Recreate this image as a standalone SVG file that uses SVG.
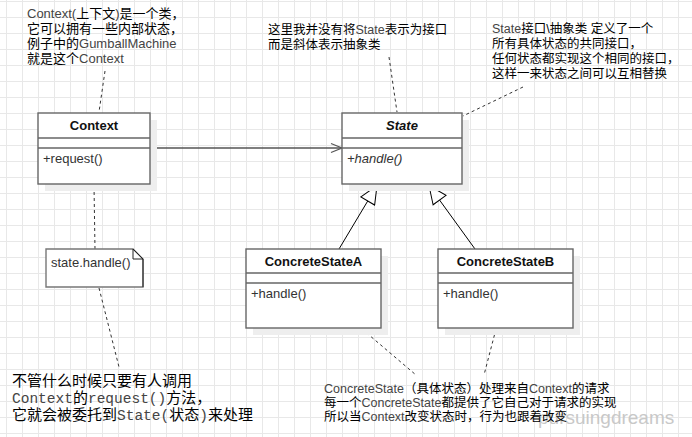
<svg xmlns="http://www.w3.org/2000/svg" width="692" height="437" viewBox="0 0 692 437">
<defs>
<pattern id="grid" width="16" height="16" patternUnits="userSpaceOnUse" x="6" y="1">
<rect x="0" y="0" width="16" height="16" fill="#ffffff"/>
<rect x="0" y="0" width="1" height="16" fill="#e8e8e8"/>
<rect x="0" y="0" width="16" height="1" fill="#e8e8e8"/>
</pattern>
<marker id="open" markerUnits="userSpaceOnUse" markerWidth="14" markerHeight="12" viewBox="0 0 14 12" refX="12" refY="6" orient="auto">
<path d="M1,1.5 L12,6 L1,10.5" fill="none" stroke="#555" stroke-width="1.2"/>
</marker>
<marker id="tri" markerUnits="userSpaceOnUse" markerWidth="20" markerHeight="18" viewBox="0 0 20 18" refX="19" refY="9" orient="auto">
<path d="M1,1 L19,9 L1,17 Z" fill="#fff" stroke="#000" stroke-width="1"/>
</marker>
</defs>
<style>
.box{fill:#fff;stroke:#666;stroke-width:1.4}
.shadow{fill:#eeeeee}
.sep{stroke:#666;stroke-width:1.4}
.title{font-family:"Liberation Sans",Arial,sans-serif;font-size:13px;font-weight:bold;fill:#111;text-anchor:middle}
.op{font-family:"Liberation Sans",Arial,sans-serif;font-size:13px;fill:#333}
.ann{font-family:"Liberation Sans","Noto Sans CJK SC",sans-serif;font-size:13px;fill:#000}
.ann2{font-family:"Liberation Sans","Noto Sans CJK SC",sans-serif;font-size:12.5px;fill:#000}
.ann3{font-family:"Liberation Sans","Noto Sans CJK SC",sans-serif;font-size:12.5px;fill:#000}
.mono{font-family:"Liberation Mono","Noto Sans CJK SC",monospace;font-size:15px;fill:#000}
.lat{fill:#444}
.mlat{fill:#444;font-size:14.5px}
.dash{fill:none;stroke:#333;stroke-width:1;stroke-dasharray:3,3}
</style>
<rect x="0" y="0" width="692" height="437" fill="url(#grid)"/>

<g id="connectors">
<line x1="150" y1="148" x2="342" y2="148" stroke="#555" stroke-width="1.3" marker-end="url(#open)"/>
<line x1="339" y1="249" x2="377" y2="185.5" stroke="#000" stroke-width="1" marker-end="url(#tri)"/>
<line x1="475" y1="249" x2="429" y2="185.5" stroke="#000" stroke-width="1" marker-end="url(#tri)"/>
<line class="dash" x1="105" y1="71" x2="99" y2="112"/>
<line class="dash" x1="94" y1="186" x2="95" y2="249"/>
<line class="dash" x1="99" y1="288" x2="119" y2="367"/>
<line class="dash" x1="389" y1="57" x2="397" y2="112"/>
<line class="dash" x1="523" y1="87" x2="463" y2="116"/>
<line class="dash" x1="362" y1="329" x2="416" y2="375"/>
<line class="dash" x1="496" y1="329" x2="484" y2="375"/>
</g>

<g id="context">
<rect class="shadow" x="45" y="120" width="112" height="71"/>
<rect class="box" x="38" y="113" width="112" height="71"/>
<line class="sep" x1="38" y1="138" x2="150" y2="138"/>
<line class="sep" x1="38" y1="148" x2="150" y2="148"/>
<text class="title" x="94" y="130">Context</text>
<text class="op" x="43" y="163">+request()</text>
</g>

<g id="state">
<rect class="shadow" x="349" y="120" width="120" height="71"/>
<rect class="box" x="342" y="113" width="120" height="71"/>
<line class="sep" x1="342" y1="138" x2="462" y2="138"/>
<line class="sep" x1="342" y1="148" x2="462" y2="148"/>
<text class="title" x="402" y="130" font-style="italic">State</text>
<text class="op" x="347" y="163" font-style="italic">+handle()</text>
</g>

<g id="concreteStateA">
<rect class="shadow" x="253" y="256" width="135" height="79"/>
<rect class="box" x="246" y="249" width="135" height="79"/>
<line class="sep" x1="246" y1="273" x2="381" y2="273"/>
<line class="sep" x1="246" y1="283" x2="381" y2="283"/>
<text class="title" x="313.5" y="266">ConcreteStateA</text>
<text class="op" x="251" y="298">+handle()</text>
</g>

<g id="concreteStateB">
<rect class="shadow" x="445" y="256" width="135" height="79"/>
<rect class="box" x="438" y="249" width="135" height="79"/>
<line class="sep" x1="438" y1="273" x2="573" y2="273"/>
<line class="sep" x1="438" y1="283" x2="573" y2="283"/>
<text class="title" x="505.5" y="266">ConcreteStateB</text>
<text class="op" x="443" y="298">+handle()</text>
</g>

<g id="note">
<path d="M46,249 H133 L143,259 V287 H46 Z" fill="#fff" stroke="#777" stroke-width="1.4"/>
<path d="M133,249 V259 H143 M133,249 L143,259 V287" fill="none" stroke="#222" stroke-width="1"/>
<text class="op" x="51" y="267">state.handle()</text>
</g>

<g id="note-context">
<text class="ann"><tspan x="27" y="18"><tspan class="lat">Context(</tspan>上下文<tspan class="lat">)</tspan>是一个类，</tspan><tspan x="27" y="33">它可以拥有一些内部状态，</tspan><tspan x="27" y="48">例子中的<tspan class="lat">GumballMachine</tspan></tspan><tspan x="27" y="63">就是这个<tspan class="lat">Context</tspan></tspan></text>
</g>

<g id="note-state">
<text class="ann2"><tspan x="268" y="34">这里我并没有将<tspan class="lat">State</tspan>表示为接口</tspan><tspan x="268" y="49">而是斜体表示抽象类</tspan></text>
</g>

<g id="note-interface">
<text class="ann2"><tspan x="492" y="33"><tspan class="lat">State</tspan>接口\抽象类 定义了一个</tspan><tspan x="492" y="48">所有具体状态的共同接口，</tspan><tspan x="492" y="63">任何状态都实现这个相同的接口，</tspan><tspan x="492" y="78">这样一来状态之间可以互相替换</tspan></text>
</g>

<g id="note-request">
<text class="mono"><tspan x="12" y="386">不管什么时候只要有人调用</tspan><tspan x="12" y="403"><tspan class="mlat">Context</tspan>的<tspan class="mlat">request()</tspan>方法，</tspan><tspan x="12" y="420">它就会被委托到<tspan class="mlat">State(</tspan>状态<tspan class="mlat">)</tspan>来处理</tspan></text>
</g>

<text x="538" y="424" font-family="Liberation Sans, Arial, sans-serif" font-size="19" fill="#c8c8c8">pursuingdreams</text>

<g id="note-concrete">
<text class="ann3"><tspan x="324" y="393"><tspan class="lat">ConcreteState</tspan>（具体状态）处理来自<tspan class="lat">Context</tspan>的请求</tspan><tspan x="324" y="407">每一个<tspan class="lat">ConcreteState</tspan>都提供了它自己对于请求的实现</tspan><tspan x="324" y="421">所以当<tspan class="lat">Context</tspan>改变状态时，行为也跟着改变</tspan></text>
</g>
</svg>
